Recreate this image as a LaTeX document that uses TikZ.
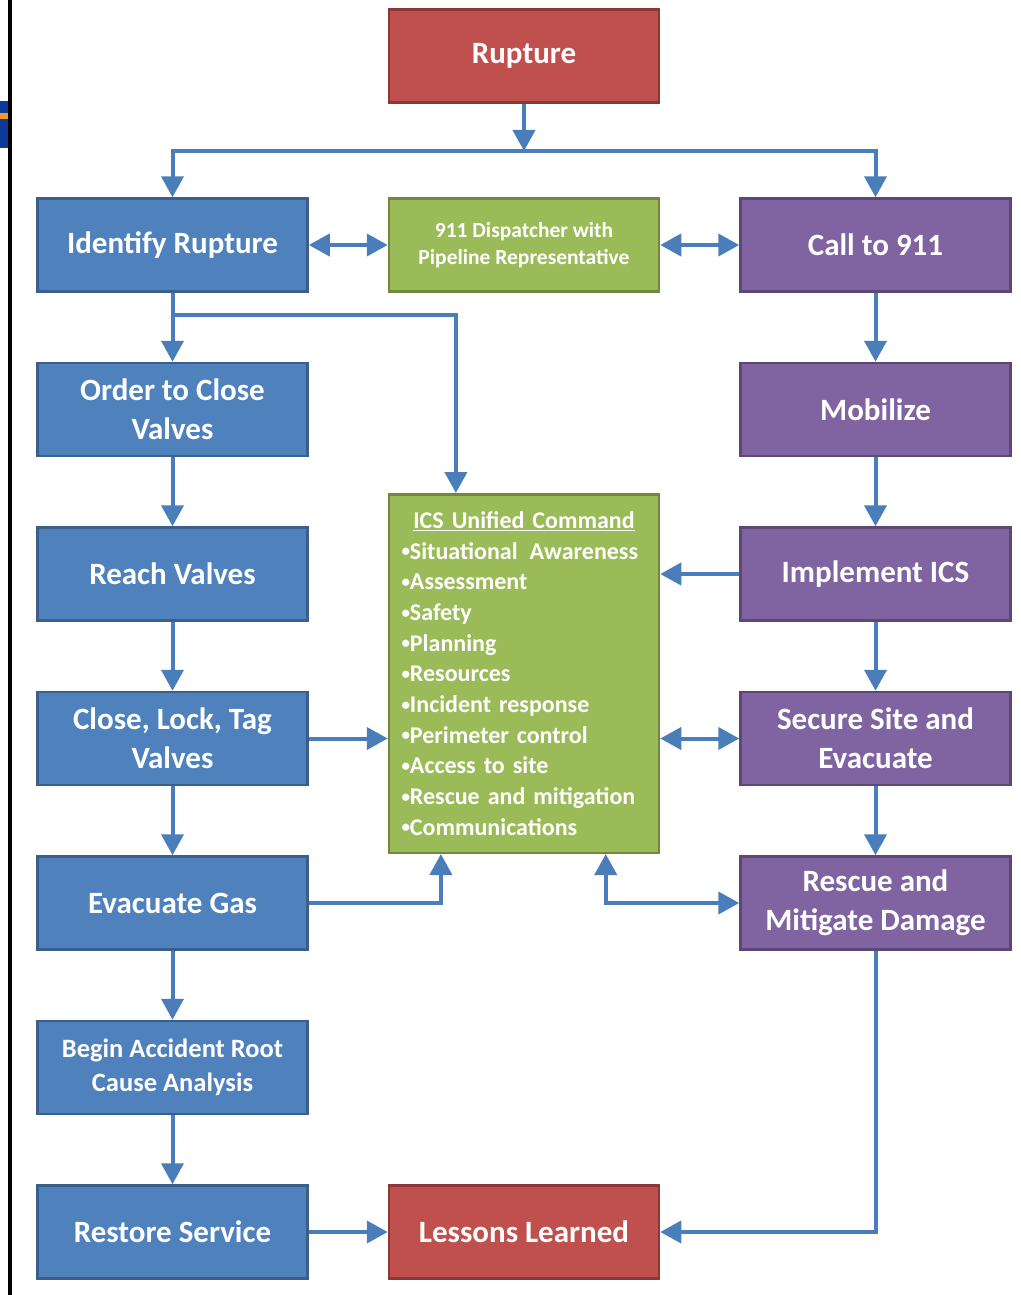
\documentclass[tikz,border=0pt]{standalone}
\usepackage{fontspec}
\setmainfont{Carlito}
\usepackage{tikz}
\usetikzlibrary{arrows.meta, positioning, calc}

\definecolor{boxblue}{HTML}{4F81BD}
\definecolor{boxblueline}{HTML}{3A5F8B}
\definecolor{boxred}{HTML}{C0504D}
\definecolor{boxredline}{HTML}{8C3836}
\definecolor{boxpurple}{HTML}{8064A2}
\definecolor{boxpurpleline}{HTML}{5C4776}
\definecolor{boxgreen}{HTML}{9BBB59}
\definecolor{boxgreenline}{HTML}{71893F}
\definecolor{flowblue}{HTML}{4A7EBB}
\definecolor{tabblue}{HTML}{0B3A9A}
\definecolor{taborange}{HTML}{F59A23}

% small raised bullet for the command list
\newcommand{\icsbul}{{\fontsize{17}{17}\selectfont\raisebox{2.4pt}{•}}}

\begin{document}
\begin{tikzpicture}[x=1pt, y=1pt, node distance=164.5pt and 351.5pt, on grid, >={Triangle[length=21pt, width=22pt]}]
        \tikzstyle{box} = [draw, rectangle, line width=2.5pt, minimum width=270pt, minimum height=93pt, align=center, text=white, font=\fontsize{31}{39}\selectfont\bfseries]
        \tikzstyle{bluebox} = [box, fill=boxblue, draw=boxblueline]
        \tikzstyle{redbox} = [box, fill=boxred, draw=boxredline]
        \tikzstyle{purplebox} = [box, fill=boxpurple, draw=boxpurpleline]
        \tikzstyle{greenbox} = [box, fill=boxgreen, draw=boxgreenline]
        \tikzstyle{flow} = [draw=flowblue, line width=4pt]

        \useasboundingbox (0,0) rectangle (1020,-1295);

        % page edge
        \fill[black] (8,0) rectangle (11.5,-1295);
        \fill[tabblue] (0,-101) rectangle (8,-148);
        \fill[taborange] (0,-113) rectangle (8,-119);

        % top row
        \node [bluebox] (idf) at (172.5,-245) {Identify Rupture};
        \node [greenbox, right=of idf, font=\fontsize{21.5}{27}\selectfont\bfseries] (disp) {911 Dispatcher with\\Pipeline Representative};
        \node [purplebox, right=of disp] (call) {Call to 911};
        \node [redbox, above=189pt of disp] (rup) {Rupture};
        \coordinate [below=95pt of rup] (split);

        % operator side
        \node [bluebox, below=of idf] (ord) {Order to Close\\Valves};
        \node [bluebox, below=of ord] (rch) {Reach Valves};
        \node [bluebox, below=of rch] (clt) {Close, Lock, Tag\\Valves};
        \node [bluebox, below=of clt] (evac) {Evacuate Gas};
        \node [bluebox, below=of evac, font=\fontsize{26.5}{34}\selectfont\bfseries] (bgn) {Begin Accident Root\\Cause Analysis};
        \node [bluebox, below=of bgn] (rest) {Restore Service};
        \node [redbox, right=of rest] (les) {Lessons Learned};

        % responder side
        \node [purplebox, below=of call] (mob) {Mobilize};
        \node [purplebox, below=of mob] (impl) {Implement ICS};
        \node [purplebox, below=of impl] (sec) {Secure Site and\\Evacuate};
        \node [purplebox, below=of sec] (resc) {Rescue and\\Mitigate Damage};

        % unified command
        \node [greenbox, below=428.5pt of disp, minimum height=358.5pt, text width=245pt, align=left, font=\fontsize{24}{30.7}\selectfont\bfseries] (ics)
            {\makebox[245pt]{\underline{ICS Unified Command}}\\
             \icsbul Situational\,\ Awareness\\ \icsbul Assessment\\ \icsbul Safety\\ \icsbul Planning\\ \icsbul Resources\\
             \icsbul Incident response\\ \icsbul Perimeter control\\ \icsbul Access to site\\
             \icsbul Rescue and mitigation\\ \icsbul Communications};

        % connectors
        \draw [flow, ->] (rup) -- (split);
        \draw [flow, ->] (split) -| (idf);
        \draw [flow, ->] (split) -| (call);
        \draw [flow, <->] (idf) -- (disp);
        \draw [flow, <->] (disp) -- (call);

        \coordinate [below=70pt of idf] (brk);
        \draw [flow, ->] (idf) -- (ord);
        \draw [flow, ->] (brk) -| ($(ics.north west)!0.25!(ics.north east)$);
        \draw [flow, ->] (ord) -- (rch);
        \draw [flow, ->] (rch) -- (clt);
        \draw [flow, ->] (clt) -- (evac);
        \draw [flow, ->] (evac) -- (bgn);
        \draw [flow, ->] (bgn) -- (rest);
        \draw [flow, ->] (rest) -- (les);
        \draw [flow, ->] (clt.east) -- (clt.east -| ics.west);
        \draw [flow, ->] (evac) -| ($(ics.south west)!0.195!(ics.south east)$);

        \draw [flow, ->] (call) -- (mob);
        \draw [flow, ->] (mob) -- (impl);
        \draw [flow, ->] (impl) -- (sec);
        \draw [flow, ->] (sec) -- (resc);
        \draw [flow, ->] (impl.west) -- (impl.west -| ics.east);
        \draw [flow, <->] (sec.west -| ics.east) -- (sec.west);
        \draw [flow, <->] ($(ics.south west)!0.8!(ics.south east)$) |- (resc);
        \draw [flow, ->] (resc) |- (les);

\end{tikzpicture}
\end{document}
